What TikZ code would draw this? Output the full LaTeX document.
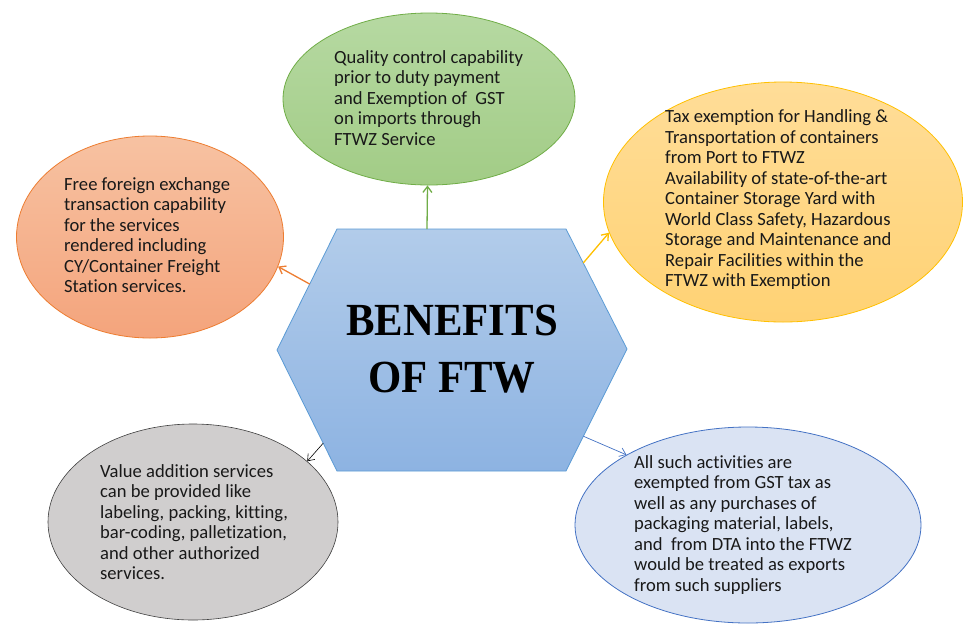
\documentclass[tikz,border=0pt]{standalone}
\usepackage{fontspec}
\setmainfont{Carlito}[Ligatures={NoCommon}]
\newfontfamily\titlefont{Liberation Serif}
\usetikzlibrary{shapes.geometric,arrows.meta,calc}
\definecolor{grnF1}{HTML}{B6D9A2}\definecolor{grnF2}{HTML}{A2CC86}\definecolor{grnS}{HTML}{70AD47}
\definecolor{orF1}{HTML}{F7C2A2}\definecolor{orF2}{HTML}{F4A47C}\definecolor{orS}{HTML}{ED7D31}
\definecolor{yeF1}{HTML}{FFDD98}\definecolor{yeF2}{HTML}{FFD274}\definecolor{yeS}{HTML}{FFC000}
\definecolor{grF}{HTML}{D0CECE}\definecolor{grS}{HTML}{404040}
\definecolor{blF}{HTML}{DAE3F3}\definecolor{blS}{HTML}{4472C4}
\definecolor{hxF1}{HTML}{B2CCEA}\definecolor{hxF2}{HTML}{8DB3E2}\definecolor{hxS}{HTML}{5B9BD5}
\tikzset{
  bubble/.style={ellipse, inner sep=0pt},
  btext/.style={anchor=west, align=left, inner sep=0pt, font=\fontsize{18.6}{20.5}\selectfont, text=black!90},
  conn/.style={-{Straight Barb[length=6pt,width=9pt]}, line width=1.3pt},
}
\begin{document}
\begin{tikzpicture}[x=1pt,y=-1pt]
\useasboundingbox (0,0) rectangle (972,641);
\fill[white] (0,0) rectangle (972,641);
% hexagon
\coordinate (hL) at (277,350);
\coordinate (hTL) at (337,229);
\coordinate (hTR) at (566,229);
\coordinate (hR) at (627,349);
\coordinate (hBR) at (566,471);
\coordinate (hBL) at (337,471);
\draw[hxS, line width=0.8pt, top color=hxF1, bottom color=hxF2] (hL) -- (hTL) -- (hTR) -- (hR) -- (hBR) -- (hBL) -- cycle;
\node[align=center, inner sep=0pt, font=\titlefont\bfseries\fontsize{46}{57}\selectfont, xscale=0.93, transform shape] (title) at (452,349) {BENEFITS\\OF FTW};
% ellipses
\node[bubble, draw=grnS, line width=0.8pt, top color=grnF1, bottom color=grnF2, minimum width=292pt, minimum height=172pt] (green) at (429,99) {};
\node[bubble, draw=yeS, line width=0.8pt, top color=yeF1, bottom color=yeF2, minimum width=359pt, minimum height=240pt] (yellow) at (783,202) {};
\node[bubble, draw=orS, line width=0.8pt, top color=orF1, bottom color=orF2, minimum width=267pt, minimum height=202pt] (orange) at (150,237) {};
\node[bubble, draw=grS, line width=0.6pt, fill=grF, minimum width=290pt, minimum height=196pt] (gray) at (193,522) {};
\node[bubble, draw=blS, line width=0.8pt, fill=blF, minimum width=346pt, minimum height=196pt] (blue) at (748,525) {};
% texts
\node[btext] (tgreen) at (334,98) {Quality control capability\\prior to duty payment\\and Exemption of~ GST\\on imports through\\FTWZ Service};
\node[btext] (tyellow) at (665,200) {Tax exemption for Handling \&\\Transportation of containers\\from Port to FTWZ\\Availability of state-of-the-art\\Container Storage Yard with\\World Class Safety, Hazardous\\Storage and Maintenance and\\Repair Facilities within the\\FTWZ with Exemption};
\node[btext] (torange) at (64,235) {Free foreign exchange\\transaction capability\\for the services\\rendered including\\CY/Container Freight\\Station services.};
\node[btext] (tgray) at (100,522) {Value addition services\\can be provided like\\labeling, packing, kitting,\\bar-coding, palletization,\\and other authorized\\services.};
\node[btext] (tblue) at (634,525) {All such activities are\\exempted from GST tax as\\well as any purchases of\\packaging material, labels,\\and~ from DTA into the FTWZ\\would be treated as exports\\from such suppliers};
% connectors
\coordinate (sG) at (427,229);
\coordinate (sY) at ($(hTR)!0.283!(hR)$);
\coordinate (sO) at ($(hTL)!0.455!(hL)$);
\coordinate (sK) at ($(hL)!0.77!(hBL)$);
\coordinate (sB) at ($(hR)!0.715!(hBR)$);
\draw[conn, grnS] (sG) -- (green.-91);
\draw[conn, yeS] (sY) -- (yellow.190);
\draw[conn, orS] (sO) -- (orange.-13);
\draw[conn, black, line width=0.6pt] (sK) -- (gray.28);
\draw[conn, blS, line width=0.7pt] (sB) -- (blue.150);
\end{tikzpicture}
\end{document}
